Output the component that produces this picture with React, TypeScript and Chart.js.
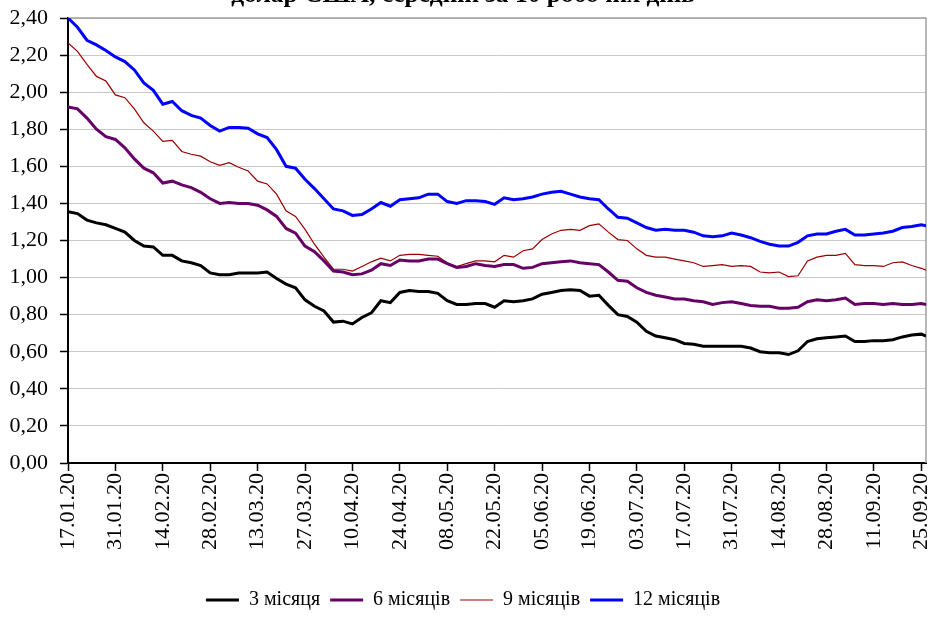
import React, { useEffect, useRef } from 'react';
import { Chart, registerables } from 'chart.js';

Chart.register(...registerables);

const FONT = "'Liberation Serif', 'Times New Roman', serif";

const titleText = 'долар США, середній за 10 робочих днів';

// tick labels: every 10th business day (two calendar weeks)
const xTickLabels = [
  '17.01.20', '31.01.20', '14.02.20', '28.02.20', '13.03.20', '27.03.20', '10.04.20',
  '24.04.20', '08.05.20', '22.05.20', '05.06.20', '19.06.20', '03.07.20', '17.07.20',
  '31.07.20', '14.08.20', '28.08.20', '11.09.20', '25.09.20',
];

const seriesNames = ['3 місяця', '6 місяців', '9 місяців', '12 місяців'];

// values sampled every 2nd business day from 17.01.20 (day 0) to day 180, plus last day 181
const SAMPLE_STEP = 2;
const LAST_DAY = 181;

const m3 = [
  1.355, 1.345, 1.31, 1.295, 1.285, 1.265, 1.245, 1.2, 1.17, 1.165,
  1.12, 1.12, 1.09, 1.08, 1.065, 1.025, 1.015, 1.015, 1.025, 1.025,
  1.025, 1.03, 0.995, 0.965, 0.945, 0.88, 0.845, 0.82, 0.76, 0.765,
  0.75, 0.785, 0.81, 0.875, 0.865, 0.92, 0.93, 0.925, 0.925, 0.915,
  0.875, 0.855, 0.855, 0.86, 0.86, 0.84, 0.875, 0.87, 0.875, 0.885,
  0.91, 0.92, 0.93, 0.935, 0.93, 0.9, 0.905, 0.85, 0.8, 0.79,
  0.76, 0.71, 0.685, 0.675, 0.665, 0.645, 0.64, 0.63, 0.63, 0.63,
  0.63, 0.63, 0.62, 0.6, 0.595, 0.595, 0.585, 0.605, 0.655, 0.67,
  0.675, 0.68, 0.685, 0.655, 0.655, 0.66, 0.66, 0.665, 0.68, 0.69,
  0.695, 0.685,
];

const m6 = [
  1.92, 1.91, 1.86, 1.8, 1.76, 1.745, 1.7, 1.64, 1.59, 1.565,
  1.51, 1.52, 1.5, 1.485, 1.46, 1.425, 1.4, 1.405, 1.4, 1.4,
  1.39, 1.365, 1.33, 1.265, 1.24, 1.17, 1.14, 1.09, 1.035, 1.03,
  1.015, 1.02, 1.04, 1.075, 1.065, 1.095, 1.09, 1.09, 1.1, 1.1,
  1.075, 1.055, 1.06, 1.075, 1.065, 1.06, 1.07, 1.07, 1.05, 1.055,
  1.075, 1.08, 1.085, 1.09, 1.08, 1.075, 1.07, 1.03, 0.985, 0.98,
  0.945, 0.92, 0.905, 0.895, 0.885, 0.885, 0.875, 0.87, 0.855, 0.865,
  0.87, 0.86, 0.85, 0.845, 0.845, 0.835, 0.835, 0.84, 0.87, 0.88,
  0.875, 0.88, 0.89, 0.855, 0.86, 0.86, 0.855, 0.86, 0.855, 0.855,
  0.86, 0.855,
];

const m9 = [
  2.265, 2.22, 2.15, 2.085, 2.06, 1.985, 1.97, 1.91, 1.835, 1.79,
  1.735, 1.74, 1.68, 1.665, 1.655, 1.625, 1.605, 1.62, 1.595, 1.575,
  1.52, 1.505, 1.45, 1.36, 1.33, 1.26, 1.18, 1.11, 1.045, 1.045,
  1.035, 1.06, 1.085, 1.105, 1.09, 1.12, 1.125, 1.125, 1.12, 1.115,
  1.08, 1.06, 1.075, 1.09, 1.09, 1.085, 1.12, 1.11, 1.145, 1.155,
  1.205, 1.235, 1.255, 1.26, 1.255, 1.28, 1.29, 1.245, 1.205, 1.2,
  1.155, 1.12, 1.11, 1.11, 1.1, 1.09, 1.08, 1.06, 1.065, 1.07,
  1.06, 1.065, 1.06, 1.03, 1.025, 1.03, 1.005, 1.01, 1.09, 1.11,
  1.12, 1.12, 1.13, 1.07, 1.065, 1.065, 1.06, 1.08, 1.085, 1.065,
  1.05, 1.04,
];

const m12 = [
  2.4, 2.35, 2.28, 2.255, 2.225, 2.19, 2.165, 2.12, 2.05, 2.01,
  1.935, 1.95, 1.9, 1.875, 1.86, 1.82, 1.79, 1.81, 1.81, 1.805,
  1.775, 1.755, 1.69, 1.6, 1.59, 1.53, 1.48, 1.425, 1.37, 1.36,
  1.335, 1.34, 1.37, 1.405, 1.385, 1.42, 1.425, 1.43, 1.45, 1.45,
  1.41, 1.4, 1.415, 1.415, 1.41, 1.395, 1.43, 1.42, 1.425, 1.435,
  1.45, 1.46, 1.465, 1.45, 1.435, 1.425, 1.42, 1.37, 1.325, 1.32,
  1.295, 1.27, 1.255, 1.26, 1.255, 1.255, 1.245, 1.225, 1.22, 1.225,
  1.24, 1.23, 1.215, 1.195, 1.18, 1.17, 1.17, 1.19, 1.225, 1.235,
  1.235, 1.25, 1.26, 1.23, 1.23, 1.235, 1.24, 1.25, 1.27, 1.275,
  1.285, 1.28,
];

const seriesValues = [m3, m6, m9, m12];
const seriesColors = ['#000000', '#660066', '#990000', '#0000ff'];
const seriesWidths = [3, 3, 1.2, 3];

const toPoints = (vals: number[]) =>
  vals.map((v, i) => ({ x: Math.min(i * SAMPLE_STEP, LAST_DAY), y: v }));

const framePlugin = {
  id: 'plotFrame',
  beforeDatasetsDraw(chart: any) {
    const { ctx, chartArea } = chart;
    const { left, right, top, bottom } = chartArea;
    ctx.save();
    ctx.strokeStyle = '#a0a0a0';
    ctx.lineWidth = 1.5;
    ctx.beginPath();
    ctx.moveTo(left, top);
    ctx.lineTo(right, top);
    ctx.lineTo(right, bottom);
    ctx.stroke();
    ctx.restore();
  },
};

export default function App() {
  const canvasRef = useRef<HTMLCanvasElement | null>(null);

  useEffect(() => {
    if (!canvasRef.current) return;
    const chart = new Chart(canvasRef.current, {
      type: 'line',
      data: {
        datasets: seriesNames.map((name, k) => ({
          label: name,
          data: toPoints(seriesValues[k]),
          borderColor: seriesColors[k],
          backgroundColor: seriesColors[k],
          borderWidth: seriesWidths[k],
          pointRadius: 0,
          pointHoverRadius: 0,
          tension: 0,
          fill: false,
        })),
      },
      options: {
        animation: false,
        responsive: true,
        maintainAspectRatio: false,
        devicePixelRatio: 1,
        events: [],
        layout: { padding: { left: 0, right: 8, top: 0, bottom: 0 } },
        plugins: {
          title: {
            display: true,
            text: titleText,
            color: '#000',
            font: { family: FONT, size: 25.5, weight: 'bold' },
            padding: { top: 0.6, bottom: 6.8 },
          },
          legend: {
            position: 'bottom',
            labels: {
              usePointStyle: true,
              pointStyle: 'line',
              pointStyleWidth: 33,
              color: '#000',
              font: { family: FONT, size: 20 },
              padding: 10,
            },
          },
          tooltip: { enabled: false },
        },
        scales: {
          x: {
            type: 'linear',
            min: 0,
            max: LAST_DAY,
            afterFit: (s: any) => {
              s.height = 117;
              s.paddingLeft = 0;
              s.paddingRight = 0;
            },
            ticks: {
              stepSize: 10,
              includeBounds: false,
              autoSkip: false,
              minRotation: 90,
              maxRotation: 90,
              padding: 2,
              color: '#000',
              font: { family: FONT, size: 22 },
              callback: (v: any) => xTickLabels[Math.round(Number(v) / 10)] ?? '',
            },
            grid: { drawOnChartArea: false, drawTicks: true, tickColor: '#000', tickLength: 8, tickWidth: 1.5 },
            border: { color: '#000', width: 2 },
          },
          y: {
            min: 0,
            max: 2.4,
            afterFit: (s: any) => {
              s.width = 68;
            },
            ticks: {
              stepSize: 0.2,
              padding: 12,
              color: '#000',
              font: { family: FONT, size: 22 },
              callback: (v: any) => Number(v).toFixed(2).replace('.', ','),
            },
            grid: { color: '#c8c8c8', lineWidth: 1, tickColor: '#000', tickLength: 8, tickWidth: 1.5 },
            border: { color: '#000', width: 2 },
          },
        },
      },
      plugins: [framePlugin],
    });
    return () => chart.destroy();
  }, []);

  return (
    <div style={{ position: 'absolute', left: 0, top: -20, width: 934, height: 640 }}>
      <canvas ref={canvasRef} />
    </div>
  );
}
